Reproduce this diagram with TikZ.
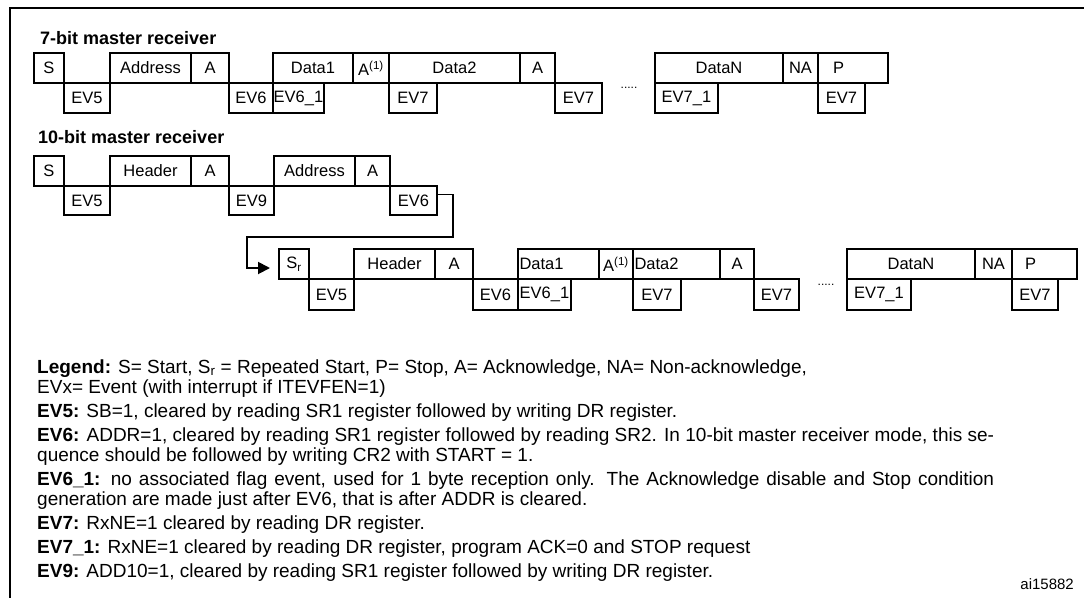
\documentclass[tikz,border=0pt]{standalone}
\usepackage{fontspec}
\setmainfont{Liberation Sans}
\usetikzlibrary{arrows.meta}
\begin{document}
\begin{tikzpicture}[x=1pt,y=-1pt,
  bx/.style={draw, line width=1.9pt, inner sep=0pt, outer sep=0pt, anchor=north west,
    minimum height=30pt, font=\fontsize{16.5}{16.5}\selectfont},
  ttl/.style={anchor=base west, font=\bfseries\fontsize{18}{18}\selectfont, inner sep=0pt},
  lg/.style={anchor=base west, font=\fontsize{19}{20}\selectfont, inner sep=0pt},
  dots/.style={font=\fontsize{12}{12}\selectfont, inner sep=0pt},
  conn/.style={line width=1.9pt, -{Triangle[length=12pt,width=12pt]}}
]
\useasboundingbox (0,0) rectangle (1084,598);
\fill[white] (0,0) rectangle (1084,598);
\draw[line width=2.6pt] (1084,8) -- (10,8) -- (10,598);

% ---------- 7-bit master receiver ----------
\node[ttl] (t1) at (40,44) {7-bit master receiver};
% upper row
\node[bx, minimum width=30pt]  (a1) at (34,53)  {S};
\node[bx, minimum width=81pt]  (a2) at (110,53) {Address};
\node[bx, minimum width=38pt]  (a3) at (191,53) {A};
\node[bx, minimum width=80pt]  (a4) at (273,53) {Data1};
\node[bx, minimum width=36pt]  (a5) at (353,53) {A\textsuperscript{(1)}};
\node[bx, minimum width=131pt] (a6) at (389,53) {Data2};
\node[bx, minimum width=35pt]  (a7) at (520,53) {A};
\node[bx, minimum width=128pt] (a8) at (655,53) {DataN};
\node[bx, minimum width=35pt]  (a9) at (783,53) {NA};
\node[bx, minimum width=55pt, text width=40pt, inner xsep=15pt, align=left] (a10) at (818,53) {P};
% lower row
\node[bx, minimum width=46pt] (b1) at (64,83)  {EV5};
\node[bx, minimum width=44pt] (b2) at (229,83) {EV6};
\node[bx, minimum width=51pt] (b3) at (273,83) {EV6\_1};
\node[bx, minimum width=48pt] (b4) at (389,83) {EV7};
\node[bx, minimum width=47pt] (b5) at (555,83) {EV7};
\node[bx, minimum width=63pt] (b6) at (655,83) {EV7\_1};
\node[bx, minimum width=47pt] (b7) at (818,83) {EV7};
\node[dots] (d1) at (629,88) {.....};

% ---------- 10-bit master receiver ----------
\node[ttl] (t2) at (38,143) {10-bit master receiver};
\node[bx, minimum width=30pt] (c1) at (34,156)  {S};
\node[bx, minimum width=81pt] (c2) at (110,156) {Header};
\node[bx, minimum width=38pt] (c3) at (191,156) {A};
\node[bx, minimum width=81pt] (c4) at (274,156) {Address};
\node[bx, minimum width=35pt] (c5) at (355,156) {A};
\node[bx, minimum width=46pt, minimum height=29pt] (e1) at (64,186)  {EV5};
\node[bx, minimum width=45pt, minimum height=29pt] (e2) at (229,186) {EV9};
\node[bx, minimum width=47pt, minimum height=29pt] (e3) at (390,186) {EV6};

% ---------- continuation ----------
\node[bx, minimum width=30pt]  (f1) at (279,249) {S\textsubscript{r}};
\node[bx, minimum width=81pt]  (f2) at (354,249) {Header};
\node[bx, minimum width=38pt]  (f3) at (435,249) {A};
\node[bx, minimum width=81pt, text width=78pt, inner xsep=1.5pt, align=left] (f4) at (518,249) {Data1};
\node[bx, minimum width=34pt]  (f5) at (599,249) {A\textsuperscript{(1)}};
\node[bx, minimum width=87pt, text width=84pt, inner xsep=1.5pt, align=left] (f6) at (633,249) {Data2};
\node[bx, minimum width=34pt]  (f7) at (720,249) {A};
\node[bx, minimum width=128pt] (f8) at (847,249) {DataN};
\node[bx, minimum width=37pt]  (f9) at (975,249) {NA};
\node[bx, minimum width=54pt, text width=39pt, inner xsep=13pt, align=left] (f10) at (1012,249) {P};
\node[bx, minimum width=45pt, minimum height=31pt] (g1) at (309,279)  {EV5};
\node[bx, minimum width=45pt, minimum height=31pt] (g2) at (473,279)  {EV6};
\node[bx, minimum width=53pt, minimum height=31pt] (g3) at (518,279)  {EV6\_1};
\node[bx, minimum width=48pt, minimum height=31pt] (g4) at (633,279)  {EV7};
\node[bx, minimum width=45pt, minimum height=31pt] (g5) at (754,279)  {EV7};
\node[bx, minimum width=64pt, minimum height=31pt] (g6) at (847,279)  {EV7\_1};
\node[bx, minimum width=46pt, minimum height=31pt] (g7) at (1012,279) {EV7};
\node[dots] (d2) at (826,285) {.....};

% connector
\coordinate (k1) at (453,237);
\coordinate (k2) at (247,237);
\draw[conn] ([yshift=6pt]e3.east) -| (k1) -- (k2) |- ([xshift=-9pt,yshift=-4pt]f1.west);

% ---------- legend ----------
\node[lg] (l1) at (37,373) {\textbf{Legend:} S= Start, S\textsubscript{r} = Repeated Start, P= Stop, A= Acknowledge, NA= Non-acknowledge,};
\node[lg] (l2) at (37,393) {EVx= Event (with interrupt if ITEVFEN=1)};
\node[lg] (l3) at (37,417) {\textbf{EV5:} SB=1, cleared by reading SR1 register followed by writing DR register.};
\node[lg] (l4) at (37,441) {\makebox[957pt][s]{\textbf{EV6:} ADDR=1, cleared by reading SR1 register followed by reading SR2. In 10-bit master receiver mode, this se-}};
\node[lg] (l5) at (37,461) {quence should be followed by writing CR2 with START = 1.};
\node[lg] (l6) at (37,485) {\makebox[957pt][s]{\textbf{EV6\_1:} no associated flag event, used for 1 byte reception only. The Acknowledge disable and Stop condition}};
\node[lg] (l7) at (37,505) {generation are made just after EV6, that is after ADDR is cleared.};
\node[lg] (l8) at (37,529) {\textbf{EV7:} RxNE=1 cleared by reading DR register.};
\node[lg] (l9) at (37,553) {\textbf{EV7\_1:} RxNE=1 cleared by reading DR register, program ACK=0 and STOP request};
\node[lg] (l10) at (37,577) {\textbf{EV9:} ADD10=1, cleared by reading SR1 register followed by writing DR register.};
\node[lg, anchor=base east, font=\fontsize{15}{15}\selectfont] (l11) at (1074,589) {ai15882};
\end{tikzpicture}
\end{document}
